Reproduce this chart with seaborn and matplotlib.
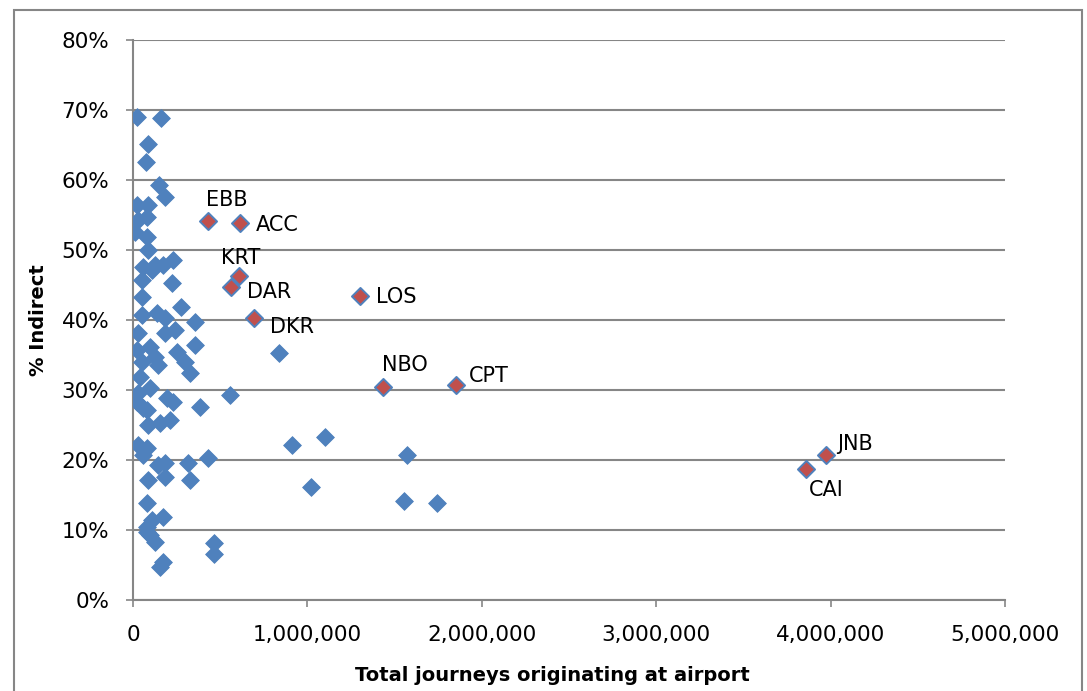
import matplotlib
matplotlib.use("Agg")
import matplotlib.pyplot as plt
import matplotlib.patches as mpatches
from matplotlib.ticker import FuncFormatter
import seaborn as sns
import pandas as pd

# ---- data ----
other_journeys = [23000, 161000, 86000, 75000, 149000, 183000, 23000, 86000, 29000, 80000,
                  11000, 80000, 86000, 57000, 126000, 172000, 229000, 109000, 52000, 224000,
                  52000, 275000, 52000, 138000, 183000, 356000, 29000, 183000, 241000, 356000,
                  23000, 97000, 252000, 126000, 52000, 298000, 143000, 40000, 327000, 29000,
                  97000, 195000, 229000, 23000, 57000, 80000, 384000, 556000, 837000, 86000,
                  155000, 212000, 29000, 80000, 57000, 143000, 183000, 315000, 430000, 86000,
                  183000, 327000, 80000, 109000, 172000, 80000, 80000, 97000, 126000, 172000,
                  155000, 464000, 464000, 912000, 1101000, 1021000, 1571000, 1554000, 1743000]
other_indirect = [69.0, 68.9, 65.1, 62.6, 59.3, 57.6, 56.4, 56.4, 54.3, 54.7,
                  52.6, 51.9, 50.0, 47.6, 47.9, 47.9, 48.6, 47.1, 45.7, 45.3,
                  43.3, 41.9, 40.7, 41.0, 40.3, 39.7, 38.1, 38.1, 38.6, 36.4,
                  35.7, 36.1, 35.4, 34.7, 34.0, 34.0, 33.6, 31.9, 32.4, 29.6,
                  30.3, 28.9, 28.3, 28.3, 27.4, 27.1, 27.6, 29.3, 35.3, 25.0,
                  25.3, 25.7, 22.1, 21.7, 20.7, 19.3, 19.6, 19.6, 20.3, 17.1,
                  17.6, 17.1, 13.9, 11.4, 11.9, 10.4, 9.7, 9.3, 8.3, 5.4,
                  4.7, 8.1, 6.6, 22.1, 23.3, 16.1, 20.7, 14.1, 13.9]

hub_codes = ["EBB", "ACC", "KRT", "DAR", "DKR", "LOS", "NBO", "CPT", "JNB", "CAI"]
hub_journeys = [430000, 614000, 608000, 562000, 694000, 1302000, 1434000, 1852000, 3974000, 3859000]
hub_indirect = [54.1, 53.9, 46.3, 44.7, 40.3, 43.4, 30.4, 30.7, 20.7, 18.7]

x_ticks = [0, 1000000, 2000000, 3000000, 4000000, 5000000]
y_ticks = [0, 10, 20, 30, 40, 50, 60, 70, 80]

# label placement (offset in pixels, ha, va)
label_pos = {
    "EBB": (19, 21, "center", "center"),
    "ACC": (16, -2, "left", "center"),
    "KRT": (2, 18, "center", "center"),
    "DAR": (16, -5, "left", "center"),
    "DKR": (16, -9, "left", "center"),
    "LOS": (16, -1, "left", "center"),
    "NBO": (22, 22, "center", "center"),
    "CPT": (13, 9, "left", "center"),
    "JNB": (11, 11, "left", "center"),
    "CAI": (20, -21, "center", "center"),
}

sns.set_theme(style="white")
plt.rcParams["font.family"] = ["DejaVu Sans"]

BLUE = "#4F81BD"
RED = "#C0504D"
GRID = "#868686"

fig = plt.figure(figsize=(10.87, 6.91), dpi=100)
ax = fig.add_axes([133 / 1087, 1 - 600 / 691, (1005 - 133) / 1087, (600 - 40) / 691])

df_o = pd.DataFrame({"x": other_journeys, "y": other_indirect})
df_h = pd.DataFrame({"x": hub_journeys, "y": hub_indirect, "code": hub_codes})

sns.scatterplot(data=df_o, x="x", y="y", ax=ax, marker="D", s=82, color=BLUE,
                edgecolor=BLUE, linewidth=0.6, zorder=3, legend=False)
sns.scatterplot(data=df_h, x="x", y="y", ax=ax, marker="D", s=76, color=RED,
                edgecolor=BLUE, linewidth=1.4, zorder=4, legend=False)

for code, xv, yv in zip(hub_codes, hub_journeys, hub_indirect):
    dx, dy, ha, va = label_pos[code]
    ax.annotate(code, (xv, yv), xytext=(dx, dy), textcoords="offset pixels",
                ha=ha, va=va, fontsize=15, color="black", zorder=5)

ax.set_xlim(0, 5000000)
ax.set_ylim(0, 80)
ax.set_xticks(x_ticks)
ax.set_yticks(y_ticks)
ax.xaxis.set_major_formatter(FuncFormatter(lambda v, p: f"{int(v):,}"))
ax.yaxis.set_major_formatter(FuncFormatter(lambda v, p: f"{int(v)}%"))

ax.grid(axis="y", color=GRID, linewidth=1.5, zorder=0)
ax.grid(axis="x", visible=False)
ax.set_axisbelow(True)

for side in ["top", "right"]:
    ax.spines[side].set_visible(False)
for side in ["left", "bottom"]:
    ax.spines[side].set_color(GRID)
    ax.spines[side].set_linewidth(1.5)

ax.tick_params(axis="both", which="major", direction="out", length=5, width=1.2,
               color=GRID, labelsize=15.5, labelcolor="black")
ax.tick_params(axis="x", pad=13, bottom=True)
ax.tick_params(axis="y", pad=12, left=True)

ax.set_xlabel("Total journeys originating at airport", fontsize=14, fontweight="bold",
              color="black")
ax.xaxis.set_label_coords((552 - 133) / 872, -0.117)
ax.set_ylabel("% Indirect", fontsize=14, fontweight="bold", labelpad=10, color="black")

# outer chart border
fig.patches.append(mpatches.Rectangle((14 / 1087, -0.02), (1082 - 14) / 1087, 1 - 10 / 691 + 0.02,
                                      transform=fig.transFigure, fill=False,
                                      edgecolor="#868686", linewidth=1.5))

fig.savefig("out.png", dpi=100)
